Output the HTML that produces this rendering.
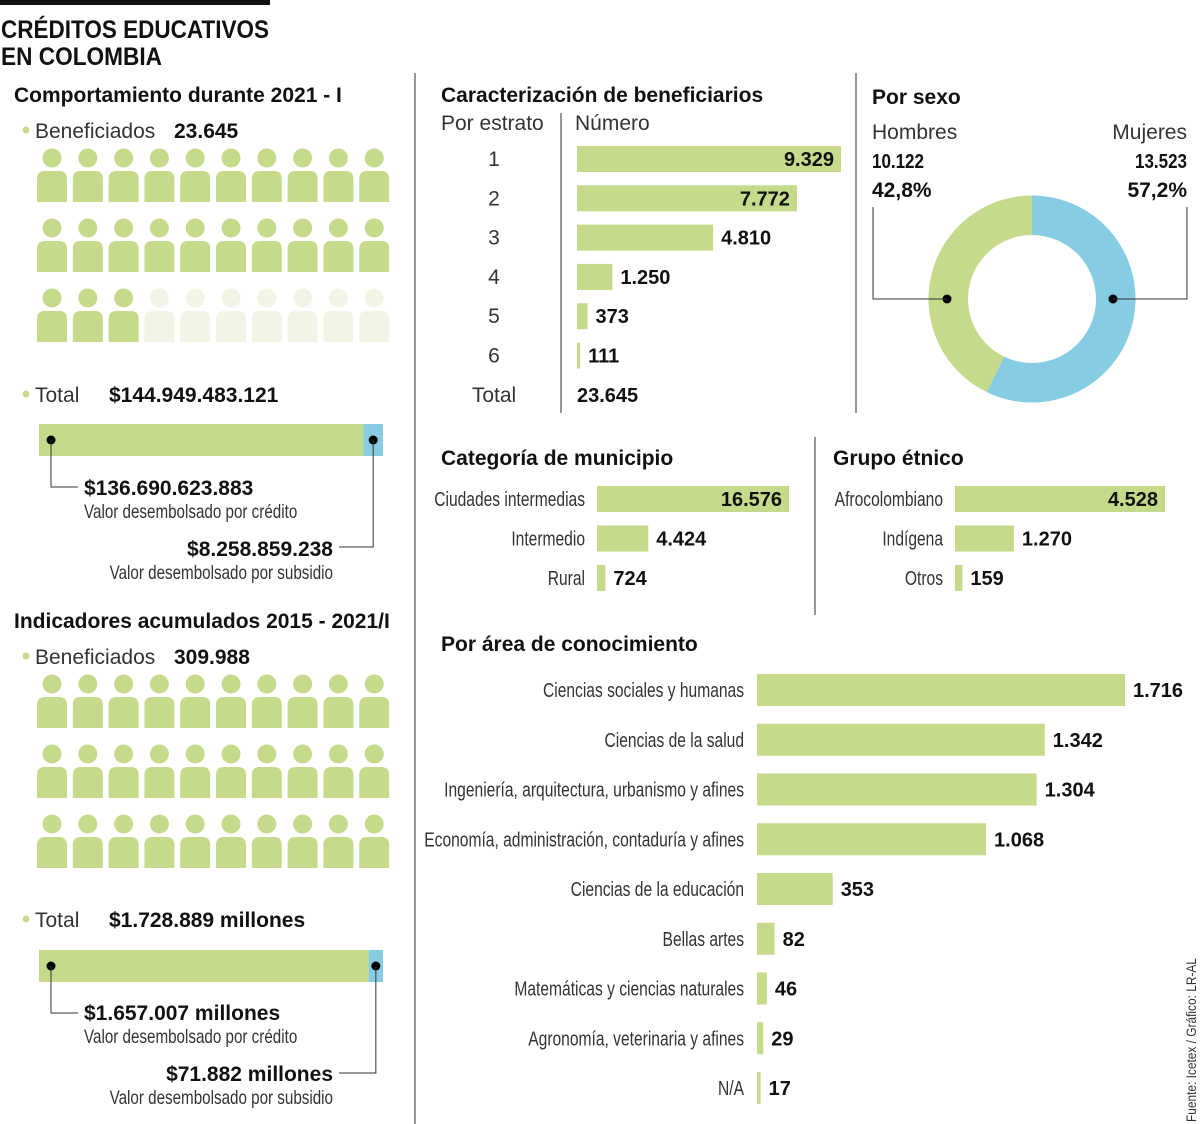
<!DOCTYPE html>
<html><head><meta charset="utf-8"><style>
html,body{margin:0;padding:0;background:#fff;}
svg{display:block;font-family:"Liberation Sans",sans-serif;}
.b{font-weight:bold;fill:#111;}
.n{fill:#333;}
.l{fill:#333;}
</style></head><body>
<svg id="c" width="1200" height="1124" viewBox="0 0 1200 1124">
<rect x="0" y="0" width="270" height="5" fill="#111"/>
<text x="1" y="38" class="b" font-size="25" textLength="268" lengthAdjust="spacingAndGlyphs">CRÉDITOS EDUCATIVOS</text>
<text x="1" y="65" class="b" font-size="25" textLength="161" lengthAdjust="spacingAndGlyphs">EN COLOMBIA</text>
<line x1="415" y1="73" x2="415" y2="1124" stroke="#555" stroke-width="1.2"/>
<line x1="561" y1="113" x2="561" y2="413" stroke="#555" stroke-width="1.2"/>
<line x1="856" y1="73" x2="856" y2="413" stroke="#555" stroke-width="1.2"/>
<line x1="815" y1="437" x2="815" y2="615" stroke="#555" stroke-width="1.2"/>

<text x="14" y="102" class="b" font-size="21">Comportamiento durante 2021 - I</text>
<circle cx="26" cy="130" r="3.5" fill="#c5da8a"/>
<text x="35" y="138" class="l" font-size="21">Beneficiados</text>
<text x="174" y="138" class="b" font-size="21">23.645</text>
<g id="people1"></g>
<circle cx="26" cy="394" r="3.5" fill="#c5da8a"/>
<text x="35" y="402" class="l" font-size="21">Total</text>
<text x="109" y="402" class="b" font-size="21">$144.949.483.121</text>
<g id="split1"></g>
<text x="84" y="495" class="b" font-size="21">$136.690.623.883</text>
<text transform="translate(84,518) scale(0.8,1)" class="n" font-size="19">Valor desembolsado por crédito</text>
<text x="333" y="556" class="b" font-size="21" text-anchor="end">$8.258.859.238</text>
<text transform="translate(333,579) scale(0.8,1)" class="n" font-size="19" text-anchor="end">Valor desembolsado por subsidio</text>

<text x="14" y="628" class="b" font-size="21">Indicadores acumulados 2015 - 2021/I</text>
<circle cx="26" cy="656" r="3.5" fill="#c5da8a"/>
<text x="35" y="664" class="l" font-size="21">Beneficiados</text>
<text x="174" y="664" class="b" font-size="21">309.988</text>
<g id="people2"></g>
<circle cx="26" cy="919" r="3.5" fill="#c5da8a"/>
<text x="35" y="927" class="l" font-size="21">Total</text>
<text x="109" y="927" class="b" font-size="21">$1.728.889 millones</text>
<g id="split2"></g>
<text x="84" y="1020" class="b" font-size="21">$1.657.007 millones</text>
<text transform="translate(84,1043) scale(0.8,1)" class="n" font-size="19">Valor desembolsado por crédito</text>
<text x="333" y="1081" class="b" font-size="21" text-anchor="end">$71.882 millones</text>
<text transform="translate(333,1104) scale(0.8,1)" class="n" font-size="19" text-anchor="end">Valor desembolsado por subsidio</text>

<text x="441" y="102" class="b" font-size="21">Caracterización de beneficiarios</text>
<text x="441" y="130" class="l" font-size="21">Por estrato</text>
<text x="575" y="130" class="l" font-size="21">Número</text>
<g id="estrato"></g>
<text x="494" y="402" class="l" font-size="21" text-anchor="middle">Total</text>
<text x="577" y="402" class="b" font-size="20">23.645</text>

<text x="872" y="104" class="b" font-size="21">Por sexo</text>
<text x="872" y="139" class="l" font-size="21">Hombres</text>
<text x="1187" y="139" class="l" font-size="21" text-anchor="end">Mujeres</text>
<g id="donut"></g>

<text x="441" y="465" class="b" font-size="21">Categoría de municipio</text>
<g id="muni"></g>
<text x="833" y="465" class="b" font-size="21">Grupo étnico</text>
<g id="etn"></g>
<text x="441" y="651" class="b" font-size="21">Por área de conocimiento</text>
<g id="area"></g>
<text transform="translate(1196,1122) rotate(-90) scale(0.85,1)" class="n" font-size="14">Fuente: Icetex / Gráfico: LR-AL</text>
</svg>
<script>
const G="#c5da8a",B="#86cde3",NS="http://www.w3.org/2000/svg";
const people1Filled=[10,10,3];const people2Filled=[10,10,10];
const split1Values=[136690623883,8258859238];
const split2Values=[1657007,71882];
const estratoCats=["1","2","3","4","5","6"];
const estratoVals=[9329,7772,4810,1250,373,111];
const estratoLabels=["9.329","7.772","4.810","1.250","373","111"];
const sexoCats=["Hombres","Mujeres"];
const sexoVals=[10122,13523];
const sexoLabels=["10.122","13.523"];
const sexoPct=["42,8%","57,2%"];
const muniCats=["Ciudades intermedias","Intermedio","Rural"];
const muniVals=[16576,4424,724];
const muniLabels=["16.576","4.424","724"];
const etnCats=["Afrocolombiano","Indígena","Otros"];
const etnVals=[4528,1270,159];
const etnLabels=["4.528","1.270","159"];
const areaCats=["Ciencias sociales y humanas","Ciencias de la salud","Ingeniería, arquitectura, urbanismo y afines","Economía, administración, contaduría y afines","Ciencias de la educación","Bellas artes","Matemáticas y ciencias naturales","Agronomía, veterinaria y afines","N/A"];
const areaVals=[1716,1342,1304,1068,353,82,46,29,17];
const areaLabels=["1.716","1.342","1.304","1.068","353","82","46","29","17"];

function el(t,a,p,txt){const e=document.createElementNS(NS,t);for(const k in a)e.setAttribute(k,a[k]);if(txt!==undefined)e.textContent=txt;p.appendChild(e);return e;}

function people(id,filled,y0){const g=document.getElementById(id);
 filled.forEach((f,r)=>{for(let i=0;i<10;i++){const cx=52+i*35.8,y=y0+r*70,col=i<f?G:"#f1f5e6";
  const h=el("circle",{cx:cx,cy:y,r:9.5,fill:col},g);
  
  
  const b=el("path",{d:`M${cx-15} ${y+44}V${y+21}Q${cx-15} ${y+13} ${cx-7} ${y+13}H${cx+7}Q${cx+15} ${y+13} ${cx+15} ${y+21}V${y+44}Z`,fill:col},g);
  
  
 }});}
people("people1",people1Filled,158);
people("people2",people2Filled,684);

function split(id,vals,y){const g=document.getElementById(id);const x0=39,W=344,tot=vals[0]+vals[1];
 const w1=W*vals[0]/tot;
 const a=el("rect",{x:x0,y:y,width:w1,height:32,fill:G},g);
 
 
 const b=el("rect",{x:x0+w1,y:y,width:W-w1,height:32,fill:B},g);
 
 
 const c=y+16,rx=x0+w1+(W-w1)/2;
 el("circle",{cx:51,cy:c,r:4.5,fill:"#000"},g);
 el("circle",{cx:rx,cy:c,r:4.5,fill:"#000"},g);
 el("polyline",{points:`51,${c} 51,${y+63} 78,${y+63}`,fill:"none",stroke:"#333","stroke-width":1},g);
 el("polyline",{points:`${rx},${c} ${rx},${y+123} 339,${y+123}`,fill:"none",stroke:"#333","stroke-width":1},g);}
split("split1",split1Values,424);
split("split2",split2Values,950);

function bars(id,cats,vals,labels,x0,maxW,y0,step,h,fs,labelX,inside,condensed,anchor){
 const g=document.getElementById(id);const mx=Math.max(...vals);
 vals.forEach((v,i)=>{const w=maxW*v/mx,yc=y0+i*step;
  const r=el("rect",{x:x0,y:yc-h/2,width:Math.max(w,3),height:h,fill:G},g);
  
  
  const ins=inside(i,w);
  const t=el("text",{x:ins?x0+w-7:x0+w+8,y:yc+7,"text-anchor":ins?"end":"start","font-size":fs,class:"b"},g,labels[i]);
  
  
  const attrs=condensed?{transform:`translate(${labelX},${yc+7}) scale(0.78,1)`,"text-anchor":anchor,"font-size":20,class:"n"}:{x:labelX,y:yc+7,"text-anchor":anchor,"font-size":21,class:"l"};
  const c=el("text",attrs,g,cats[i]);
  
  
 });}
bars("estrato",estratoCats,estratoVals,estratoLabels,577,264,159,39.3,26,20,494,(i,w)=>w>200,false,"middle");
bars("muni",muniCats,muniVals,muniLabels,597,192,499,39.5,26,20,585,(i,w)=>w>150,true,"end");
bars("etn",etnCats,etnVals,etnLabels,955,210,499,39.5,26,20,943,(i,w)=>w>150,true,"end");
bars("area",areaCats,areaVals,areaLabels,757,368,690,49.75,32,20,744,()=>false,true,"end");

(function(){const g=document.getElementById("donut");const cx=1032,cy=299,R=103.5,r=64;
 const tot=sexoVals[0]+sexoVals[1];let a0=0;
 const order=[1,0],cols=[G,B];
 order.forEach(k=>{const a1=a0+2*Math.PI*sexoVals[k]/tot;
  const p=(a,rad)=>[cx+rad*Math.sin(a),cy-rad*Math.cos(a)];
  const [x1,y1]=p(a0,R),[x2,y2]=p(a1,R),[x3,y3]=p(a1,r),[x4,y4]=p(a0,r);const lg=(a1-a0)>Math.PI?1:0;
  const s=el("path",{d:`M${x1} ${y1}A${R} ${R} 0 ${lg} 1 ${x2} ${y2}L${x3} ${y3}A${r} ${r} 0 ${lg} 0 ${x4} ${y4}Z`,fill:cols[k]},g);
  
  
  a0=a1;});
 el("circle",{cx:947,cy:cy,r:4.5,fill:"#000"},g);
 el("circle",{cx:1113,cy:cy,r:4.5,fill:"#000"},g);
 el("polyline",{points:`947,${cy} 873,${cy} 873,207`,fill:"none",stroke:"#333","stroke-width":1},g);
 el("polyline",{points:`1113,${cy} 1187,${cy} 1187,207`,fill:"none",stroke:"#333","stroke-width":1},g);
 const t1=el("text",{transform:"translate(872,168) scale(0.85,1)","font-size":20,class:"b"},g,sexoLabels[0]);
 
 
 const t2=el("text",{transform:"translate(1187,168) scale(0.85,1)","font-size":20,class:"b","text-anchor":"end"},g,sexoLabels[1]);
 
 
 const t3=el("text",{x:872,y:197,"font-size":21,class:"b"},g,sexoPct[0]);
 
 
 const t4=el("text",{x:1187,y:197,"font-size":21,class:"b","text-anchor":"end"},g,sexoPct[1]);
 
 
})();
</script>
</body></html>
